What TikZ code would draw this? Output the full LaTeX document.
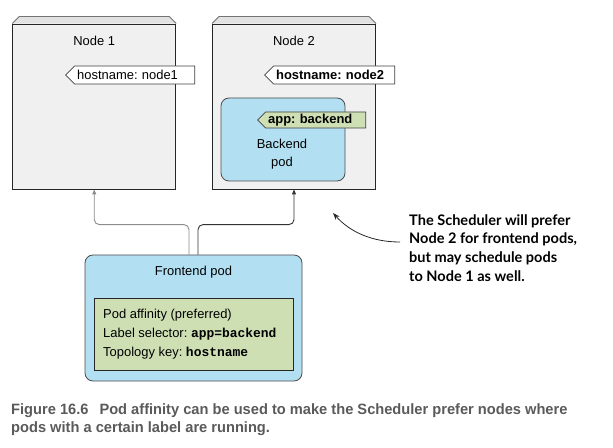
\documentclass[tikz,border=0pt]{standalone}
\usepackage{fontspec}
\setmainfont{Liberation Sans}
\setmonofont{Liberation Mono}
\newfontfamily\notefont{Lato}
\newfontfamily\capfont[FakeStretch=0.98]{Liberation Sans}
\usetikzlibrary{arrows.meta,shapes.symbols,positioning}
\frenchspacing

\definecolor{nodegray}{HTML}{F0F0F0}
\definecolor{bevelgray}{HTML}{E2E2E2}
\definecolor{podblue}{HTML}{B2E0F2}
\definecolor{affgreen}{HTML}{CEDFB4}
\definecolor{capgray}{HTML}{5A5A5A}

\tikzset{
  nodebox/.style={draw=black!85, fill=nodegray, line width=0.9bp, minimum width=163bp, minimum height=165bp, inner sep=0},
  bevel/.style={fill=bevelgray},
  beveledge/.style={draw=black!55, line width=0.9bp},
  podbox/.style={draw=black!70, fill=podblue, rounded corners=8bp, line width=0.8bp, inner sep=0},
  affbox/.style={draw=black!85, fill=affgreen, line width=0.8bp, inner sep=0},
  tag/.style={signal, signal to=west, draw=black!75, fill=white, line width=0.7bp, inner xsep=2.5bp, inner ysep=0, minimum height=18bp, align=left, font=\fontsize{13}{15}\selectfont},
  boldtag/.style={tag, font=\fontsize{13}{15}\selectfont\bfseries},
  affarrow/.style={line width=0.9bp, rounded corners=5bp, -{Triangle[length=5bp,width=4bp]}},
  notearrow/.style={line width=0.8bp, draw=black!85, -{Stealth[length=7bp,width=5bp]}}
}

\begin{document}
\begin{tikzpicture}[x=1bp, y=-1bp, font=\fontsize{13}{16}\selectfont]
\useasboundingbox (0,0) rectangle (613,448);

% worker nodes
\node[nodebox] (node1) at (94.25,106.5) {};
\node[nodebox] (node2) at (294,106.5) {};
\foreach \n in {node1,node2}{
  \fill[bevel] (\n.north west) -- ++(7,-7) -- ([shift={(-7bp,7bp)}]\n.north east) -- (\n.north east) -- cycle;
  \draw[beveledge] (\n.north west) -- ++(7,-7) -- ([shift={(-7bp,7bp)}]\n.north east) -- (\n.north east);
}
\node (title1) at ([yshift=-17bp]node1.north) {Node 1};
\node (title2) at ([yshift=-17bp]node2.north) {Node 2};

% node labels
\node[tag, text width=115bp, anchor=east] (host1) at (195,75) {hostname: node1};
\node[boldtag, text width=116bp, anchor=east] (host2) at (395,75) {hostname: node2};

% backend pod on node 2
\node[podbox, minimum width=124bp, minimum height=83bp] (backend) at (283,139.5) {};
\node[boldtag, fill=affgreen, minimum height=16bp, text width=95bp, anchor=east] (applabel) at (366,120) {app: backend};
\node[align=center, font=\fontsize{13}{18}\selectfont] (backendtext) at (282,154) {Backend\\pod};

% frontend pod
\node[podbox, minimum width=217bp, minimum height=126bp] (frontend) at (193.5,318) {};
\node (fronttitle) at (193.5,272) {Frontend pod};
\node[affbox, minimum width=199bp, minimum height=72bp] (affinity) at (193.5,334) {};
\node[anchor=north west, align=left, inner sep=0, font=\fontsize{13}{19}\selectfont] (afftext) at (103,309)
  {Pod affinity (preferred)\\Label selector: \texttt{\bfseries app=backend}\\Topology key: \texttt{\bfseries hostname}};

% affinity arrows
\draw[affarrow, draw=black!45, color=black!45] ([xshift=-4.5bp]frontend.north) -- ++(0,-30) -| (node1.south);
\draw[affarrow, draw=black!80, color=black!80] ([xshift=4.5bp]frontend.north) -- ++(0,-30) -| (node2.south);

% annotation
\node[anchor=north west, align=left, inner sep=0, font=\notefont\bfseries\fontsize{14.6}{19}\selectfont] (note) at (409,214)
  {The Scheduler will prefer\\Node 2 for frontend pods,\\but may schedule pods\\to Node 1 as well.};
\coordinate (notestart) at (400,242);
\coordinate (notetip) at (333,213);
\draw[notearrow] (notestart) .. controls (372,242) and (350,232) .. (notetip);

% caption
\node[anchor=north west, align=left, inner sep=0, text=capgray, font=\capfont\bfseries\fontsize{15}{19}\selectfont] (caption) at (11,403)
  {Figure 16.6\hspace{11bp}Pod affinity can be used to make the Scheduler prefer nodes where\\pods with a certain label are running.};
\end{tikzpicture}
\end{document}
